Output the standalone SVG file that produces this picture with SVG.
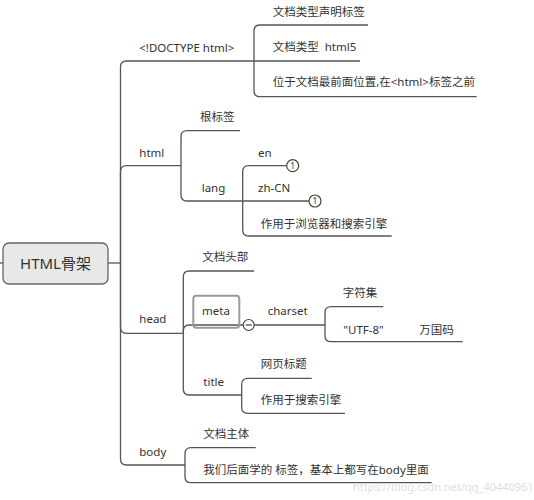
<svg xmlns="http://www.w3.org/2000/svg" width="534" height="500" viewBox="0 0 534 500">
<style>
.t{font-family:"Noto Sans","Noto Sans CJK SC",sans-serif;font-size:11.5px;fill:#333}
.c{fill:none;stroke:#555;stroke-width:1.3}
.dot{fill:#fff;stroke:#444;stroke-width:1.2}
.n{font-family:"Noto Sans",sans-serif;font-size:8.5px;fill:#333;text-anchor:middle}
</style>
<rect width="534" height="500" fill="#fff"/>
<g id="connectors" class="c">
<path d="M0,263H3"/>
<path d="M108,263H120.5"/>
<path d="M120.5,263V67Q120.5,61 126.5,61H254"/>
<path d="M120.5,263V171.7Q120.5,165.7 126.5,165.7H181"/>
<path d="M120.5,263V327.3Q120.5,333.3 126.5,333.3H183.3"/>
<path d="M120.5,263V459Q120.5,465 126.5,465H185"/>
<path d="M254,61V31Q254,25 260,25H368"/>
<path d="M254,61H360"/>
<path d="M254,61V90.7Q254,96.7 260,96.7H476.7"/>
<path d="M181,165.7V136.7Q181,130.7 187,130.7H240"/>
<path d="M181,165.7V195Q181,201 187,201H242.7"/>
<path d="M242.7,201V171.7Q242.7,165.7 248.7,165.7H286.7"/>
<path d="M242.7,201H309"/>
<path d="M242.7,201V230Q242.7,236 248.7,236H391.7"/>
<path d="M183.3,333.3V277Q183.3,271 189.3,271H254"/>
<path d="M183.3,333.3V331Q183.3,325 189.3,325H243.2"/>
<path d="M183.3,333.3V389Q183.3,395 189.3,395H241.7"/>
<path d="M254.2,325H325"/>
<path d="M325,325V312.7Q325,306.7 331,306.7H383.3"/>
<path d="M325,325V335.7Q325,341.7 331,341.7H462.7"/>
<path d="M241.7,395V384.3Q241.7,378.3 247.7,378.3H311.7"/>
<path d="M241.7,395V407.3Q241.7,413.3 247.7,413.3H345"/>
<path d="M185,465V453.7Q185,447.7 191,447.7H255.7"/>
<path d="M185,465V476.7Q185,482.7 191,482.7H431.7"/>
</g>
<g id="root">
<rect x="3" y="243" width="105" height="41" rx="6" fill="#e8e8e8" stroke="#666" stroke-width="1.3"/>
<text x="55.5" y="268.5" class="t" style="font-size:15px" text-anchor="middle">HTML骨架</text>
</g>
<g id="doctype">
<text x="139.3" y="51.7" class="t">&lt;!DOCTYPE html&gt;</text>
</g>
<g id="doctype-1"><text x="272.7" y="15.7" class="t">文档类型声明标签</text></g>
<g id="doctype-2"><text x="272.7" y="50.7" class="t" xml:space="preserve">文档类型  html5</text></g>
<g id="doctype-3"><text x="272.7" y="85.7" class="t">位于文档最前面位置,在&lt;html&gt;标签之前</text></g>
<g id="html"><text x="139.3" y="157" class="t">html</text></g>
<g id="html-root"><text x="200" y="121" class="t">根标签</text></g>
<g id="lang"><text x="201.7" y="192" class="t">lang</text></g>
<g id="lang-en">
<text x="258" y="157" class="t">en</text>
<circle cx="292.7" cy="165.7" r="6" class="dot"/>
<text x="292.7" y="168.8" class="n">1</text>
</g>
<g id="lang-zh">
<text x="258" y="192" class="t">zh-CN</text>
<circle cx="315" cy="201" r="6" class="dot"/>
<text x="315" y="204.1" class="n">1</text>
</g>
<g id="lang-use"><text x="260.7" y="228" class="t">作用于浏览器和搜索引擎</text></g>
<g id="head"><text x="139.3" y="323.3" class="t">head</text></g>
<g id="head-1"><text x="202.3" y="261.3" class="t">文档头部</text></g>
<g id="meta">
<rect x="193.3" y="295.7" width="46" height="32" rx="3" fill="none" stroke="#9a9a9a" stroke-width="2"/>
<text x="216" y="315" class="t" text-anchor="middle">meta</text>
<circle cx="248.7" cy="325" r="5.5" class="dot"/>
<path d="M245.7,325H251.7" stroke="#444" stroke-width="1.2"/>
</g>
<g id="charset"><text x="267.7" y="315" class="t">charset</text></g>
<g id="charset-1"><text x="342.7" y="297.3" class="t">字符集</text></g>
<g id="charset-2">
<text x="343.3" y="333.5" class="t">"UTF-8"</text>
<text x="419.3" y="334" class="t">万国码</text>
</g>
<g id="title"><text x="203.3" y="386.3" class="t">title</text></g>
<g id="title-1"><text x="260.7" y="368" class="t">网页标题</text></g>
<g id="title-2"><text x="260.7" y="404" class="t">作用于搜索引擎</text></g>
<g id="body"><text x="139.3" y="455.7" class="t">body</text></g>
<g id="body-1"><text x="203.3" y="438" class="t">文档主体</text></g>
<g id="body-2"><text x="203.3" y="474" class="t">我们后面学的 标签，基本上都写在body里面</text></g>
<text x="353" y="491" style="font-family:'Noto Sans',sans-serif;font-size:11px;fill:#e0e0e0">https://blog.csdn.net/qq_40440961</text>
</svg>
